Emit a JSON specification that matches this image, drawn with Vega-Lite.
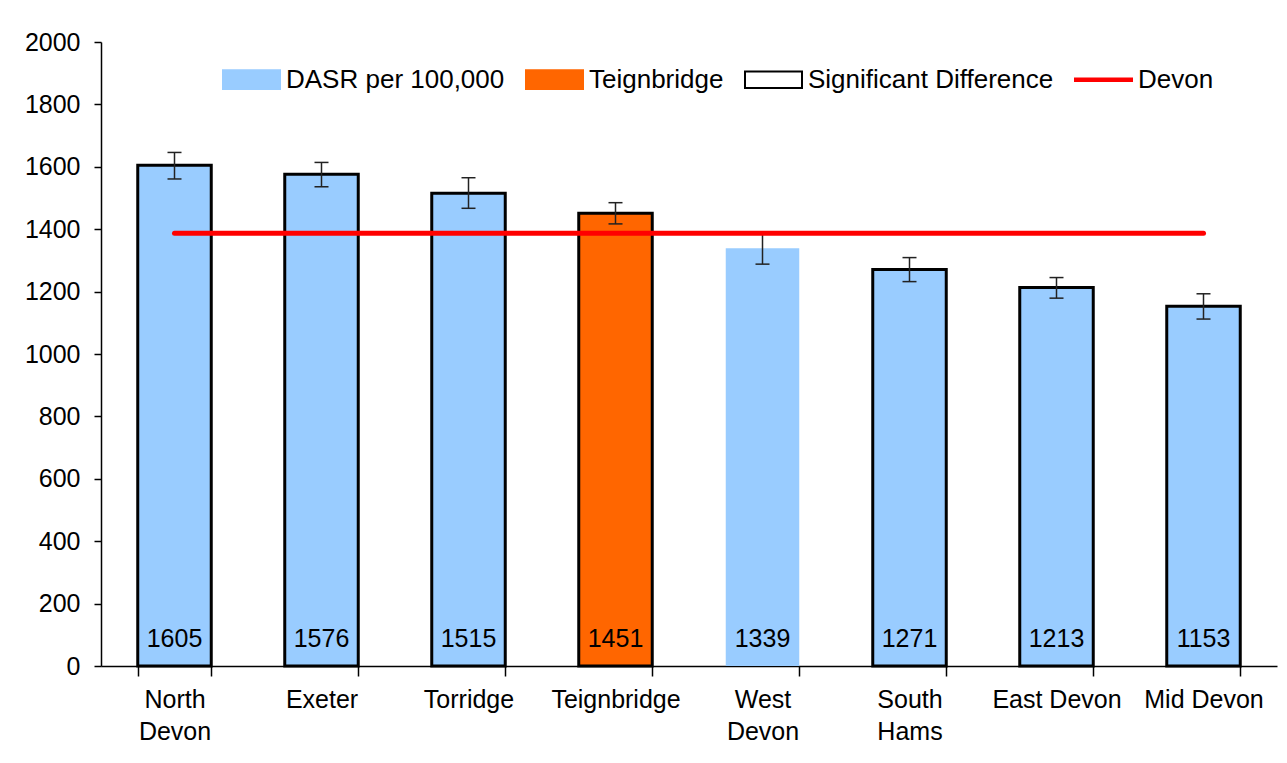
{
  "$schema": "https://vega.github.io/schema/vega-lite/v6.json",
  "width": 1176,
  "height": 624,
  "autosize": {"type": "none"},
  "padding": {"left": 101, "top": 42, "right": 10, "bottom": 97},
  "background": "white",
  "config": {
    "font": "Liberation Sans",
    "view": {"stroke": null},
    "axis": {"labelFont": "Liberation Sans", "labelFontSize": 25, "labelColor": "black", "domainColor": "black", "tickColor": "black", "domainWidth": 1.5, "tickWidth": 1.5, "grid": false, "title": null}
  },
  "datasets": {
    "districts": [
      {"district": "North Devon", "dasr": 1605, "lo": 1561, "hi": 1646, "devon": 1387, "key": "DASR per 100,000", "sig": "yes"},
      {"district": "Exeter", "dasr": 1576, "lo": 1536, "hi": 1614, "devon": 1387, "key": "DASR per 100,000", "sig": "yes"},
      {"district": "Torridge", "dasr": 1515, "lo": 1467, "hi": 1565, "devon": 1387, "key": "DASR per 100,000", "sig": "yes"},
      {"district": "Teignbridge", "dasr": 1451, "lo": 1417, "hi": 1485, "devon": 1387, "key": "Teignbridge", "sig": "yes"},
      {"district": "West Devon", "dasr": 1339, "lo": 1288, "hi": 1390, "devon": 1387, "key": "DASR per 100,000", "sig": "no"},
      {"district": "South Hams", "dasr": 1271, "lo": 1232, "hi": 1309, "devon": 1387, "key": "DASR per 100,000", "sig": "yes"},
      {"district": "East Devon", "dasr": 1213, "lo": 1179, "hi": 1245, "devon": 1387, "key": "DASR per 100,000", "sig": "yes"},
      {"district": "Mid Devon", "dasr": 1153, "lo": 1112, "hi": 1193, "devon": 1387, "key": "DASR per 100,000", "sig": "yes"}
    ],
    "legendItems": [
      {"key": "DASR per 100,000"},
      {"key": "Teignbridge"},
      {"key": "Significant Difference"},
      {"key": "Devon"}
    ]
  },
  "encoding": {
    "x": {
      "field": "district",
      "type": "nominal",
      "sort": null,
      "scale": {"paddingInner": 0.5, "paddingOuter": 0.25},
      "axis": {
        "labelAngle": 0,
        "tickSize": 10,
        "tickBand": "extent",
        "labelPadding": 11,
        "labelLineHeight": 32,
        "labelBaseline": "top",
        "labelExpr": "datum.value == 'North Devon' ? ['North', 'Devon'] : datum.value == 'West Devon' ? ['West', 'Devon'] : datum.value == 'South Hams' ? ['South', 'Hams'] : datum.value"
      }
    }
  },
  "layer": [
    {
      "data": {"name": "districts"},
      "mark": {"type": "bar", "strokeWidth": 3},
      "encoding": {
        "y": {
          "field": "dasr",
          "type": "quantitative",
          "scale": {"domain": [0, 2000], "nice": false},
          "axis": {"values": [0, 200, 400, 600, 800, 1000, 1200, 1400, 1600, 1800, 2000], "format": "d", "tickSize": 7, "labelPadding": 14, "domain": true}
        },
        "fill": {
          "field": "key",
          "type": "nominal",
          "scale": {"domain": ["DASR per 100,000", "Teignbridge", "Significant Difference", "Devon"], "range": ["#99ccff", "#ff6600", "white", "#ff0000"]}
        },
        "stroke": {
          "condition": {"test": "datum.sig == 'yes'", "value": "black"},
          "value": null
        }
      }
    },
    {
      "data": {"name": "districts"},
      "mark": {"type": "rule", "color": "#222222", "strokeWidth": 1.5},
      "encoding": {
        "y": {"field": "lo", "type": "quantitative"},
        "y2": {"field": "hi"}
      }
    },
    {
      "data": {"name": "districts"},
      "mark": {"type": "tick", "orient": "horizontal", "color": "#222222", "thickness": 1.5, "size": 14, "opacity": 1},
      "encoding": {
        "y": {"field": "lo", "type": "quantitative"}
      }
    },
    {
      "data": {"name": "districts"},
      "mark": {"type": "tick", "orient": "horizontal", "color": "#222222", "thickness": 1.5, "size": 14, "opacity": 1},
      "encoding": {
        "y": {"field": "hi", "type": "quantitative"}
      }
    },
    {
      "data": {"name": "districts"},
      "mark": {"type": "line", "color": "#ff0000", "strokeWidth": 5, "strokeCap": "round"},
      "encoding": {
        "y": {"field": "devon", "type": "quantitative"}
      }
    },
    {
      "data": {"name": "districts"},
      "mark": {"type": "text", "fontSize": 25, "color": "black", "baseline": "alphabetic", "dy": -19},
      "encoding": {
        "y": {"datum": 0, "type": "quantitative"},
        "text": {"field": "dasr", "type": "quantitative", "format": "d"}
      }
    },
    {
      "data": {"name": "legendItems"},
      "mark": {"type": "point", "filled": true, "opacity": 0},
      "encoding": {
        "x": {"datum": "North Devon"},
        "y": {"datum": 0, "type": "quantitative"},
        "fill": {
          "field": "key",
          "type": "nominal",
          "legend": {
            "title": null,
            "orient": "none",
            "direction": "horizontal",
            "columns": 4,
            "legendX": 121,
            "legendY": 8,
            "labelFont": "Liberation Sans",
            "labelFontSize": 26,
            "labelColor": "black",
            "labelLimit": 0,
            "labelOffset": 5,
            "columnPadding": 17,
            "symbolSize": 3249,
            "symbolStrokeWidth": 2,
            "symbolOpacity": 1
          }
        },
        "stroke": {
          "field": "key",
          "type": "nominal",
          "scale": {"domain": ["DASR per 100,000", "Teignbridge", "Significant Difference", "Devon"], "range": ["#99ccff", "#ff6600", "black", "#ff0000"]}
        },
        "shape": {
          "field": "key",
          "type": "nominal",
          "scale": {"domain": ["DASR per 100,000", "Teignbridge", "Significant Difference", "Devon"], "range": ["M-1,-0.33H1V0.33H-1Z", "M-1,-0.33H1V0.33H-1Z", "M-1,-0.29H1V0.29H-1Z", "M-1,-0.04H1V0.04H-1Z"]}
        }
      }
    }
  ]
}
